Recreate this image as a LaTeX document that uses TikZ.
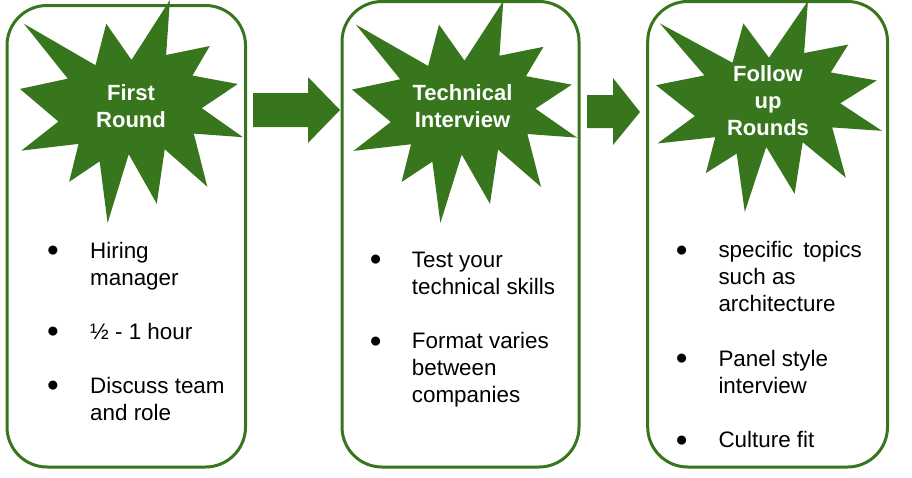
\documentclass[tikz,border=0pt]{standalone}
\usepackage{fontspec}
\setmainfont{Liberation Sans}
\definecolor{dg}{HTML}{38761D}
\tikzset{
  panel/.style={draw=dg, line width=3pt, fill=white, rounded corners=40pt},
  blockarrow/.style={fill=dg, draw=none},
  title/.style={text=white, font=\bfseries\fontsize{22}{27}\selectfont, inner sep=0pt, anchor=base},
  body/.style={text=black, font=\fontsize{22.4}{27}\selectfont, inner sep=0pt, anchor=base west},
  dot/.style={text=black, font=\fontsize{21}{21}\selectfont, inner sep=0pt, anchor=center},
}
\newcommand{\drawburst}[4]{%
  \fill[dg, shift={(#1,#2)}, xscale=#3/216, yscale=#4/216]
    (108,58) -- (145.22,0) -- (141.55,53.25) -- (183.80,44.57) -- (167.02,73.15)
    -- (210.97,81.37) -- (176.07,104.75) -- (216,132.90) -- (168.37,129.42)
    -- (181.45,180.95) -- (140.20,144.57) -- (132.47,197.37) -- (105.32,149.35)
    -- (84.85,216) -- (77.15,156.27) -- (47.62,176.17) -- (56.67,139.37)
    -- (1.35,145.87) -- (37.22,117.75) -- (0,86.15) -- (46.27,76.17)
    -- (3.70,22.95) -- (73.12,63.20) -- (83.52,22.95) -- cycle;}
\begin{document}
\begin{tikzpicture}[x=1pt,y=-1pt]
\useasboundingbox (0,0) rectangle (912,477);
% panels
\draw[panel] (7,5.5) rectangle (245.5,467);
\draw[panel] (342,1.5) rectangle (579,467);
\draw[panel] (647.7,1.5) rectangle (887.5,467);
% bursts
\drawburst{20}{0}{223}{223}
\drawburst{352}{1}{225}{222}
\drawburst{656}{1}{226}{211}
% arrows
\fill[blockarrow] (253,93) -- (308,93) -- (308,77) -- (340,110) -- (308,143) -- (308,127) -- (253,127) -- cycle;
\fill[blockarrow] (587,95) -- (613,95) -- (613,78) -- (640,112) -- (613,145) -- (613,128) -- (587,128) -- cycle;
% titles
\node[title] (t1a) at (131,100) {First};
\node[title] (t1b) at (131,127) {Round};
\node[title] (t2a) at (462.5,100) {Technical};
\node[title] (t2b) at (462.5,127) {Interview};
\node[title] (t3a) at (768,81) {Follow};
\node[title] (t3b) at (768,108) {up};
\node[title] (t3c) at (768,135) {Rounds};
% panel 1 text
\node[dot] (d1a) at (53,251.7) {●};
\node[dot] (d1b) at (53,332.3) {●};
\node[dot] (d1c) at (53,386.7) {●};
\node[body] (p1a) at (90,258.3) {Hiring};
\node[body] (p1b) at (90,285) {manager};
\node[body] (p1c) at (90,339) {½ - 1 hour};
\node[body] (p1d) at (90,393) {Discuss team};
\node[body] (p1e) at (90,420) {and role};
% panel 2 text
\node[dot] (d2a) at (375.7,260.7) {●};
\node[dot] (d2b) at (375.7,342.7) {●};
\node[body] (p2a) at (411.7,267) {Test your};
\node[body] (p2b) at (411.7,294) {technical skills};
\node[body] (p2c) at (411.7,348.5) {Format varies};
\node[body] (p2d) at (411.7,375.5) {between};
\node[body] (p2e) at (411.7,402.5) {companies};
% panel 3 text
\node[dot] (d3a) at (681.7,251.7) {●};
\node[dot] (d3b) at (681.7,359.3) {●};
\node[dot] (d3c) at (681.7,441.7) {●};
\node[body] (p3a) at (718.3,257.5) {specific\hspace{0.45em}topics};
\node[body] (p3b) at (718.3,284.3) {such as};
\node[body] (p3c) at (718.3,311) {architecture};
\node[body] (p3d) at (718.3,366) {Panel style};
\node[body] (p3e) at (718.3,393) {interview};
\node[body] (p3f) at (718.3,447.3) {Culture fit};
\end{tikzpicture}
\end{document}
